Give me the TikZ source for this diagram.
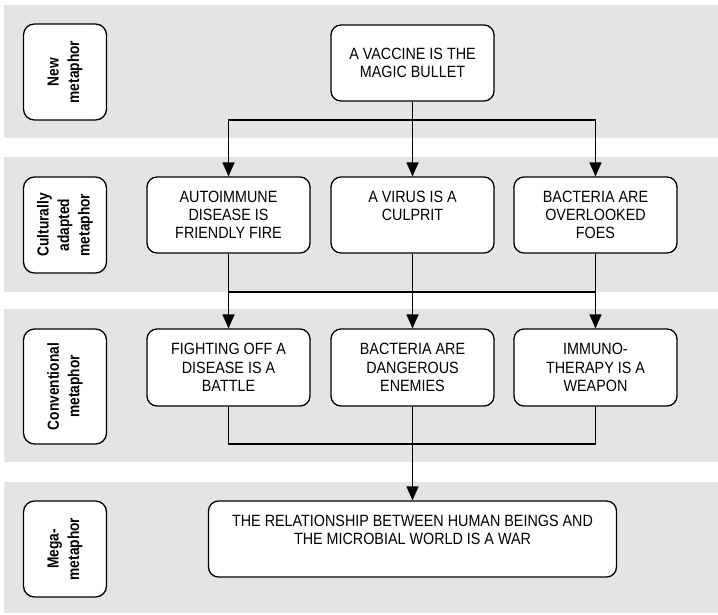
\documentclass[tikz,border=0pt]{standalone}
\usepackage{fontspec}
\setmainfont{Liberation Sans}
\newfontfamily\narrowfont[FakeStretch=0.88]{Liberation Sans}
\newfontfamily\narrowbold[FakeStretch=0.86,FakeBold=0]{Liberation Sans Bold}
\usetikzlibrary{arrows.meta}
\definecolor{bandgray}{HTML}{E4E4E4}
\begin{document}
\begin{tikzpicture}[x=1pt,y=-1pt,
  band/.style={fill=bandgray},
  mbox/.style={draw=black, line width=1.3pt, fill=white, rounded corners=10pt,
    minimum width=163pt, minimum height=76pt, inner sep=0pt, align=center,
    font=\narrowfont\fontsize{16.3}{18.3}\selectfont},
  lbox/.style={draw=black, line width=1.3pt, fill=white, rounded corners=11pt,
    minimum width=96pt, minimum height=83pt, inner sep=0pt, align=center, rotate=90,
    font=\narrowbold\fontsize{16}{20.5}\selectfont},
  conn/.style={line width=1.3pt},
  arr/.style={line width=1.3pt, -{Triangle[length=14pt,width=12pt]}}
]
\useasboundingbox (0,0) rectangle (718,614);
% bands
\fill[band] (3.7,5) rectangle (718,138);
\fill[band] (3.7,157) rectangle (718,292);
\fill[band] (3.7,309) rectangle (718,462);
\fill[band] (3.7,482) rectangle (718,613);
% labels
\node[lbox] (l1) at (65,72) {New\\metaphor};
\node[lbox] (l2) at (65,225) {Culturally\\adapted\\metaphor};
\node[lbox, minimum width=115pt] (l3) at (65,386.5) {Conventional\\metaphor};
\node[lbox] (l4) at (65,549) {Mega-\\metaphor};
% content nodes
\node[mbox] (top) at (412.5,63) {A VACCINE IS THE\\MAGIC BULLET};
\node[mbox] (n1) at (228.5,215) {AUTOIMMUNE\\DISEASE IS\\FRIENDLY FIRE};
\node[mbox] (n2) at (412.5,215) {A VIRUS IS A\\CULPRIT\\\phantom{X}};
\node[mbox] (n3) at (595.5,215) {BACTERIA ARE\\OVERLOOKED\\FOES};
\node[mbox, minimum height=77pt] (m1) at (228.5,367.5) {FIGHTING OFF A\\DISEASE IS A\\BATTLE};
\node[mbox, minimum height=77pt] (m2) at (412.5,367.5) {BACTERIA ARE\\DANGEROUS\\ENEMIES};
\node[mbox, minimum height=77pt] (m3) at (595.5,367.5) {IMMUNO-\\THERAPY IS A\\WEAPON};
\node[mbox, minimum width=408pt] (mega) at (412.5,539) {THE RELATIONSHIP BETWEEN HUMAN BEINGS AND\\THE MICROBIAL WORLD IS A WAR\\\phantom{X}};
% junctions
\coordinate (j1) at (412.5,120);
\coordinate (j2) at (412.5,292);
\coordinate (j3) at (412.5,444);
% connectors
\draw[conn] (top.south) -- (j1);
\draw[arr] (j1) -| (n1.north);
\draw[arr] (j1) -| (n3.north);
\draw[arr] (j1) -- (n2.north);
\draw[conn] (n1.south) |- (j2);
\draw[conn] (n3.south) |- (j2);
\draw[conn] (n2.south) -- (j2);
\draw[arr] (j2) -| (m1.north);
\draw[arr] (j2) -| (m3.north);
\draw[arr] (j2) -- (m2.north);
\draw[conn] (m1.south) |- (j3);
\draw[conn] (m3.south) |- (j3);
\draw[arr] (m2.south) -- (mega.north);
\end{tikzpicture}
\end{document}
